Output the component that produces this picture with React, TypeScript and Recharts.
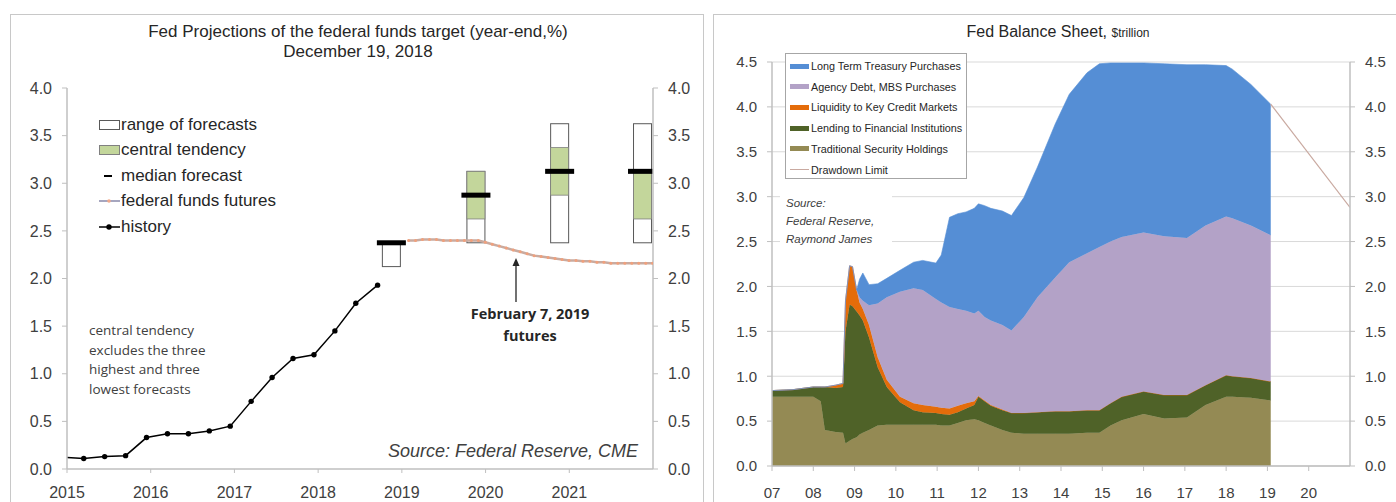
import { ComposedChart, Line, Bar, Area, XAxis, YAxis, CartesianGrid } from "recharts"

const FONT = "'Liberation Sans', Arial, Helvetica, sans-serif"
const NOTE_FONT = "'Open Sans', 'Noto Sans', sans-serif"

// ---------- left panel: Fed projections ----------
const leftYears = [2015, 2016, 2017, 2018, 2019, 2020, 2021]
const rateTicks = [0, 0.5, 1, 1.5, 2, 2.5, 3, 3.5, 4]

// effective fed funds, quarterly (first point is the line start, no marker)
const histYears = [2015.0, 2015.2, 2015.45, 2015.7, 2015.95, 2016.2, 2016.45, 2016.7, 2016.95, 2017.2, 2017.45, 2017.7, 2017.95, 2018.2, 2018.45, 2018.71]
const histRate = [0.12, 0.11, 0.13, 0.14, 0.33, 0.37, 0.37, 0.4, 0.45, 0.71, 0.96, 1.16, 1.2, 1.45, 1.74, 1.93]

// fed funds futures, monthly from Feb 2019
const futStart = 2019.08
const futRate = [
  2.4, 2.4, 2.41, 2.41, 2.41, 2.4, 2.4, 2.4, 2.4, 2.4, 2.4, 2.38,
  2.36, 2.34, 2.32, 2.3, 2.28, 2.26, 2.24, 2.23, 2.22, 2.21, 2.2, 2.19,
  2.19, 2.18, 2.18, 2.17, 2.17, 2.16, 2.16, 2.16, 2.16, 2.16, 2.16, 2.16,
]

// FOMC projections (year-end)
const fcYears = [2018.88, 2019.89, 2020.89, 2021.88]
const rangeLow = [2.125, 2.375, 2.375, 2.375]
const rangeHigh = [2.375, 3.125, 3.625, 3.625]
const ctLow = [null, 2.625, 2.875, 2.625]
const ctHigh = [null, 3.125, 3.375, 3.125]
const medianFc = [2.375, 2.875, 3.125, 3.125]

// ---------- right panel: Fed balance sheet ----------
const bsYearTicks = [2007, 2008, 2009, 2010, 2011, 2012, 2013, 2014, 2015, 2016, 2017, 2018, 2019, 2020]
const bsTicks = [0, 0.5, 1, 1.5, 2, 2.5, 3, 3.5, 4, 4.5]

const bsYears = [2007.0, 2007.5, 2008.0, 2008.18, 2008.28, 2008.54, 2008.72, 2008.78, 2008.88, 2008.95, 2009.05, 2009.12, 2009.2, 2009.35, 2009.56, 2009.78, 2010.1, 2010.43, 2010.65, 2010.97, 2011.1, 2011.3, 2011.5, 2011.7, 2011.9, 2012.0, 2012.15, 2012.3, 2012.58, 2012.8, 2013.1, 2013.43, 2013.86, 2014.2, 2014.63, 2014.93, 2015.2, 2015.47, 2016.0, 2016.5, 2017.05, 2017.5, 2018.0, 2018.15, 2018.6, 2019.08]
const traditional = [0.77, 0.77, 0.77, 0.72, 0.4, 0.38, 0.37, 0.25, 0.28, 0.3, 0.32, 0.35, 0.37, 0.4, 0.45, 0.46, 0.46, 0.46, 0.46, 0.46, 0.45, 0.45, 0.48, 0.51, 0.52, 0.51, 0.48, 0.45, 0.4, 0.37, 0.36, 0.36, 0.36, 0.36, 0.37, 0.37, 0.45, 0.51, 0.58, 0.53, 0.54, 0.68, 0.77, 0.77, 0.76, 0.73]
const lending = [0.07, 0.08, 0.11, 0.16, 0.48, 0.49, 0.51, 1.25, 1.52, 1.48, 1.4, 1.33, 1.25, 1.03, 0.65, 0.42, 0.25, 0.16, 0.14, 0.13, 0.13, 0.12, 0.12, 0.13, 0.16, 0.26, 0.24, 0.22, 0.22, 0.22, 0.23, 0.24, 0.25, 0.25, 0.25, 0.25, 0.25, 0.26, 0.25, 0.26, 0.25, 0.22, 0.24, 0.23, 0.22, 0.21]
const liquidity = [0, 0, 0, 0, 0, 0.03, 0.04, 0.34, 0.43, 0.44, 0.24, 0.14, 0.13, 0.14, 0.11, 0.08, 0.06, 0.08, 0.08, 0.07, 0.07, 0.07, 0.07, 0.06, 0.04, 0.01, 0.01, 0.01, 0.01, 0, 0, 0, 0, 0, 0, 0, 0, 0, 0, 0, 0, 0, 0, 0, 0, 0]
const agency = [0, 0, 0, 0, 0, 0, 0, 0, 0, 0, 0, 0.06, 0.09, 0.22, 0.6, 0.92, 1.17, 1.28, 1.28, 1.2, 1.17, 1.13, 1.08, 1.03, 0.98, 0.95, 0.93, 0.94, 0.94, 0.92, 1.07, 1.28, 1.49, 1.66, 1.75, 1.82, 1.8, 1.78, 1.77, 1.77, 1.75, 1.78, 1.77, 1.76, 1.7, 1.63]
const treasury = [0, 0, 0, 0, 0, 0, 0, 0, 0, 0, 0, 0.2, 0.31, 0.23, 0.22, 0.21, 0.24, 0.29, 0.33, 0.4, 0.53, 1.0, 1.06, 1.1, 1.17, 1.19, 1.24, 1.25, 1.27, 1.28, 1.33, 1.45, 1.71, 1.87, 2.01, 2.04, 1.99, 1.94, 1.89, 1.92, 1.93, 1.79, 1.68, 1.66, 1.57, 1.46]

const drawdownYears = [2019.08, 2021.0]
const drawdownVals = [4.03, 2.88]

const bsSeries = [
  { key: "traditional", name: "Traditional Security Holdings", color: "#948A54" },
  { key: "lending", name: "Lending to Financial Institutions", color: "#4F6228" },
  { key: "liquidity", name: "Liquidity to Key Credit Markets", color: "#E46C0A" },
  { key: "agency", name: "Agency Debt, MBS Purchases", color: "#B3A2C7" },
  { key: "treasury", name: "Long Term Treasury Purchases", color: "#558ED5" },
]

const fcData = fcYears.map((t, i) => ({
  t,
  range: [rangeLow[i], rangeHigh[i]],
  ctLow: ctLow[i],
  ctHigh: ctHigh[i],
  median: medianFc[i],
}))
const histData = histYears.map((t, i) => ({ t, v: histRate[i] }))
const futData = futRate.map((v, i) => ({ t: futStart + i / 12, v }))

const bsData = bsYears.map((t, i) => ({
  t,
  traditional: traditional[i],
  lending: lending[i],
  liquidity: liquidity[i],
  agency: agency[i],
  treasury: treasury[i],
}))
const drawdownData = drawdownYears.map((t, i) => ({ t, v: drawdownVals[i] }))

const axisGrey = "#BFBFBF"
const labelColor = "#404040"

function ForecastBox(props: any) {
  const { x, y, width, height, payload } = props
  if (x == null || y == null || !payload) return <g />
  const [lo, hi] = payload.range
  const top = Math.min(y, y + height)
  const h = Math.abs(height)
  const k = h / (hi - lo)
  const yOf = (v: number) => top + (hi - v) * k
  const cx = x + width / 2
  return (
    <g>
      <rect x={x} y={top} width={width} height={h} fill="#ffffff" stroke="#595959" strokeWidth={1} />
      {payload.ctHigh != null && (
        <rect
          x={x}
          y={yOf(payload.ctHigh)}
          width={width}
          height={(payload.ctHigh - payload.ctLow) * k}
          fill="#C3D69B"
          stroke="#808080"
          strokeWidth={0.8}
        />
      )}
      <rect x={cx - 14.5} y={yOf(payload.median) - 2.5} width={29} height={5} fill="#000000" />
    </g>
  )
}

function HistDot(p: any) {
  if (p.index === 0) return <g key={`h${p.index}`} />
  return <circle key={`h${p.index}`} cx={p.cx} cy={p.cy} r={2.7} fill="#000000" />
}

function LeftLegend() {
  const row = (top: number, icon: any, label: string) => (
    <div style={{ position: "absolute", left: 0, top, height: 20, display: "flex", alignItems: "center" }}>
      <svg width={23} height={20} style={{ display: "block" }}>{icon}</svg>
      <span>{label}</span>
    </div>
  )
  return (
    <div style={{ position: "absolute", left: 98, top: 115, fontFamily: FONT, fontSize: 17, color: "#262626", whiteSpace: "nowrap" }}>
      {row(0, <rect x={1.5} y={5.5} width={20} height={9} fill="#fff" stroke="#595959" />, "range of forecasts")}
      {row(25, <rect x={1.5} y={5.5} width={20} height={9} fill="#C3D69B" stroke="#808080" />, "central tendency")}
      {row(51, <line x1={6} x2={14} y1={10} y2={10} stroke="#000" strokeWidth={2} />, "median forecast")}
      {row(76, <g><line x1={1} x2={22} y1={10} y2={10} stroke="#A6A6BF" strokeWidth={2} /><circle cx={11} cy={10} r={1.8} fill="#F2A98A" /></g>, "federal funds futures")}
      {row(102, <g><line x1={1} x2={22} y1={10} y2={10} stroke="#000" strokeWidth={1.5} /><circle cx={11} cy={10} r={2.7} fill="#000" /></g>, "history")}
    </div>
  )
}

function RightLegend() {
  return (
    <div
      style={{
        position: "absolute", left: 785, top: 53, width: 182, height: 126,
        border: "1px solid #A6A6A6", background: "#fff", fontFamily: FONT, fontSize: 10.8,
        color: "#262626", boxSizing: "border-box",
      }}
    >
      {[...bsSeries].reverse().map((s, i) => (
        <div key={s.key} style={{ position: "absolute", left: 4, top: 4 + i * 20.7, height: 16, display: "flex", alignItems: "center", whiteSpace: "nowrap" }}>
          <span style={{ display: "inline-block", width: 19, height: 5, background: s.color, marginRight: 2 }} />
          {s.name}
        </div>
      ))}
      <div style={{ position: "absolute", left: 4, top: 4 + 5 * 20.7, height: 16, display: "flex", alignItems: "center", whiteSpace: "nowrap" }}>
        <span style={{ display: "inline-block", width: 19, height: 1, background: "#C9A9A0", marginRight: 2 }} />
        Drawdown Limit
      </div>
    </div>
  )
}

const tickL = { fontSize: 16, fill: labelColor, fontFamily: FONT }
const tickR = { fontSize: 15, fill: labelColor, fontFamily: FONT }

export default function App() {
  return (
    <div style={{ position: "absolute", left: 0, top: 0, width: 1396, height: 502, background: "#fff", overflow: "hidden" }}>
      {/* panel frames */}
      <div style={{ position: "absolute", left: 10, top: 14, width: 692, height: 520, border: "1px solid #C8C8C8" }} />
      <div style={{ position: "absolute", left: 713, top: 14, width: 700, height: 520, border: "1px solid #C8C8C8" }} />

      {/* ---------- left chart: forecast boxes (own chart so bar width is not squeezed by the monthly lines) ---------- */}
      <div style={{ position: "absolute", left: 0, top: 0 }}>
        <ComposedChart width={702} height={502} data={fcData} margin={{ top: 88, right: 49, bottom: 33, left: 67 }}>
          <XAxis dataKey="t" type="number" domain={[2015, 2022]} allowDataOverflow hide />
          <YAxis yAxisId="l" domain={[0, 4]} allowDataOverflow hide />
          <Bar yAxisId="l" dataKey="range" barSize={18} shape={ForecastBox} isAnimationActive={false} />
        </ComposedChart>
      </div>

      {/* ---------- left chart: axes and lines ---------- */}
      <div style={{ position: "absolute", left: 0, top: 0 }}>
        <ComposedChart width={702} height={502} margin={{ top: 88, right: 9, bottom: 3, left: 20 }}>
          <XAxis
            dataKey="t" type="number" domain={[2015, 2022]} ticks={leftYears} allowDataOverflow
            height={30} tickSize={4} tickMargin={14}
            axisLine={{ stroke: axisGrey, strokeWidth: 1.5 }} tickLine={{ stroke: axisGrey }}
            tick={tickL}
          />
          <YAxis
            yAxisId="l" domain={[0, 4]} ticks={rateTicks} allowDataOverflow width={47} tickSize={5} tickMargin={10}
            tickFormatter={(v: number) => v.toFixed(1)}
            axisLine={{ stroke: axisGrey, strokeWidth: 1.5 }} tickLine={{ stroke: axisGrey }}
            tick={tickL}
          />
          <YAxis
            yAxisId="r" orientation="right" domain={[0, 4]} ticks={rateTicks} allowDataOverflow width={40} tickSize={5} tickMargin={10}
            tickFormatter={(v: number) => v.toFixed(1)}
            axisLine={{ stroke: axisGrey, strokeWidth: 1.5 }} tickLine={{ stroke: axisGrey }}
            tick={tickL}
          />
          <Line
            yAxisId="r" data={futData} dataKey="v" type="linear" stroke="#C9ABA0" strokeWidth={2.5}
            dot={{ r: 1.5, fill: "#F0A07C", stroke: "none" }} isAnimationActive={false}
          />
          <Line
            yAxisId="l" data={histData} dataKey="v" type="linear" stroke="#000000" strokeWidth={1.5}
            dot={HistDot} isAnimationActive={false}
          />
        </ComposedChart>
      </div>

      {/* left titles and notes */}
      <div style={{ position: "absolute", left: 10, width: 696, top: 22, textAlign: "center", fontFamily: FONT, fontSize: 17, lineHeight: "20px", color: "#262626" }}>
        Fed Projections of the federal funds target (year-end,%)
        <br />
        December 19, 2018
      </div>
      <LeftLegend />
      <div style={{ position: "absolute", left: 89, top: 321, fontFamily: NOTE_FONT, fontSize: 13.5, lineHeight: "19.5px", color: "#404040" }}>
        central tendency
        <br />
        excludes the three
        <br />
        highest and three
        <br />
        lowest forecasts
      </div>
      <svg style={{ position: "absolute", left: 505, top: 255 }} width={22} height={50}>
        <line x1={11} x2={11} y1={6} y2={47} stroke="#262626" strokeWidth={1.3} />
        <polygon points="11,3 7.5,11 14.5,11" fill="#262626" />
      </svg>
      <div style={{ position: "absolute", left: 430, width: 200, top: 303, textAlign: "center", fontFamily: NOTE_FONT, fontWeight: 700, fontSize: 14.5, lineHeight: "22px", color: "#262626" }}>
        February 7, 2019
        <br />
        futures
      </div>
      <div style={{ position: "absolute", left: 385, top: 441, fontFamily: FONT, fontStyle: "italic", fontSize: 18, color: "#404040", background: "#fff", padding: "0 3px", whiteSpace: "nowrap" }}>
        Source: Federal Reserve, CME
      </div>

      {/* ---------- right chart ---------- */}
      <div style={{ position: "absolute", left: 713, top: 0 }}>
        <ComposedChart width={683} height={502} data={bsData} margin={{ top: 62, right: 6, bottom: 3, left: 12 }}>
          <CartesianGrid yAxisId="l" vertical={false} stroke="#D9D9D9" />
          <XAxis
            dataKey="t" type="number" domain={[2007, 2021]} ticks={bsYearTicks} allowDataOverflow
            height={33} tickSize={5} tickMargin={16}
            tickFormatter={(v: number) => String(v % 100).padStart(2, "0")}
            axisLine={{ stroke: axisGrey, strokeWidth: 1.5 }} tickLine={{ stroke: axisGrey }}
            tick={tickR}
          />
          <YAxis
            yAxisId="l" domain={[0, 4.5]} ticks={bsTicks} allowDataOverflow width={47} tickSize={5} tickMargin={10}
            tickFormatter={(v: number) => v.toFixed(1)}
            axisLine={{ stroke: axisGrey, strokeWidth: 1.5 }} tickLine={{ stroke: axisGrey }}
            tick={tickR}
          />
          <YAxis
            yAxisId="r" orientation="right" domain={[0, 4.5]} ticks={bsTicks} allowDataOverflow width={40} tickSize={5} tickMargin={10}
            tickFormatter={(v: number) => v.toFixed(1)}
            axisLine={{ stroke: axisGrey, strokeWidth: 1.5 }} tickLine={{ stroke: axisGrey }}
            tick={tickR}
          />
          {bsSeries.map((s) => (
            <Area
              key={s.key} yAxisId="l" stackId="bs" dataKey={s.key} name={s.name} type="linear"
              fill={s.color} fillOpacity={1} stroke={s.color} strokeWidth={0.6} isAnimationActive={false}
            />
          ))}
          <Line
            yAxisId="r" data={drawdownData} dataKey="v" type="linear" stroke="#C9A9A0" strokeWidth={1.2}
            dot={false} isAnimationActive={false}
          />
        </ComposedChart>
      </div>

      <div style={{ position: "absolute", left: 713, width: 690, top: 23, textAlign: "center", fontFamily: FONT, fontSize: 16, color: "#262626", whiteSpace: "nowrap" }}>
        Fed Balance Sheet, <span style={{ fontSize: 12 }}>$trillion</span>
      </div>
      <RightLegend />
      <div style={{ position: "absolute", left: 780, top: 190, width: 112, height: 60, background: "#fff", fontFamily: FONT, fontStyle: "italic", fontSize: 11.5, lineHeight: "18px", color: "#404040", paddingTop: 4, boxSizing: "border-box" }}>
        <div style={{ paddingLeft: 6 }}>Source:</div>
        <div style={{ paddingLeft: 6 }}>Federal Reserve,</div>
        <div style={{ paddingLeft: 6 }}>Raymond James</div>
      </div>
    </div>
  )
}
